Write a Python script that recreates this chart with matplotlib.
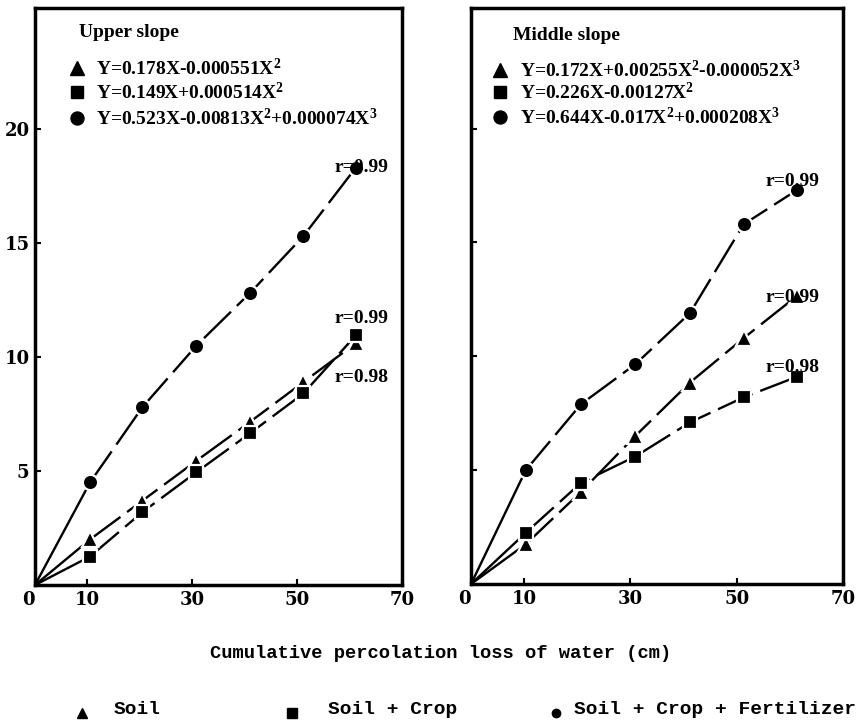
import matplotlib
matplotlib.use("Agg")
import matplotlib.pyplot as plt
import numpy as np

plt.rcParams['mathtext.fontset'] = 'custom'
plt.rcParams['mathtext.rm'] = 'Liberation Serif:bold'
plt.rcParams['mathtext.it'] = 'Liberation Serif:bold'
plt.rcParams['mathtext.bf'] = 'Liberation Serif:bold'

# ---- data ----
series_names = ["Soil", "Soil + Crop", "Soil + Crop + Fertilizer"]

upper_x = [10.5, 20.5, 30.8, 41.0, 51.2, 61.2]
upper_soil = [2.0, 3.7, 5.45, 7.15, 8.9, 10.6]
upper_crop = [1.25, 3.2, 4.95, 6.65, 8.4, 10.95]
upper_fert = [4.5, 7.8, 10.5, 12.8, 15.3, 18.3]

middle_x = [10.3, 20.7, 30.9, 41.2, 51.3, 61.3]
middle_soil = [1.75, 4.05, 6.5, 8.85, 10.8, 12.65]
middle_crop = [2.25, 4.45, 5.6, 7.1, 8.2, 9.1]
middle_fert = [5.0, 7.9, 9.65, 11.9, 15.8, 17.3]

upper_eqs = ["Y=0.178X-0.000551X$^{2}$",
             "Y=0.149X+0.000514X$^{2}$",
             "Y=0.523X-0.00813X$^{2}$+0.000074X$^{3}$"]
middle_eqs = ["Y=0.172X+0.00255X$^{2}$-0.000052X$^{3}$",
              "Y=0.226X-0.00127X$^{2}$",
              "Y=0.644X-0.017X$^{2}$+0.000208X$^{3}$"]

upper_r = [("r=0.99", 62.3, 18.3), ("r=0.99", 62.3, 11.7), ("r=0.98", 62.3, 9.1)]
middle_r = [("r=0.99", 60.5, 17.7), ("r=0.99", 60.5, 12.6), ("r=0.98", 60.5, 9.5)]

xticks = [0, 10, 30, 50, 70]
yticks = [5, 10, 15, 20]
xlabel = "Cumulative percolation loss of water (cm)"

markers = ['^', 's', 'o']
msizes = [12, 10, 11]

serif = 'Liberation Serif'
tickfont = 'DejaVu Serif'
mono = 'Liberation Mono'

fig = plt.figure(figsize=(8.58, 7.27), dpi=100)
ax1 = fig.add_axes([0.0408, 0.1953, 0.4277, 0.7937])
ax2 = fig.add_axes([0.549, 0.1967, 0.4336, 0.7923])


def draw_panel(ax, xs, ys_list, title, eqs, rlabels, title_pos, mk_x, tx_x, eq_ys, show_ylabels):
    for ys, m, ms in zip(ys_list, markers, msizes):
        # solid segment from origin to first point
        ax.plot(np.r_[0, xs[:1]], np.r_[0, ys[:1]], color='black', lw=1.7, zorder=2)
        ax.plot(xs, ys, color='black', lw=1.7, dashes=(16, 3.5), zorder=2)
        ax.plot(xs, ys, linestyle='none', marker=m, ms=ms, color='black',
                markeredgecolor='white', markeredgewidth=1.6, zorder=3)
    ax.set_xlim(0, 70)
    ax.set_ylim(0, 25.3)
    ax.set_xticks(xticks)
    ax.set_xticklabels([str(t) for t in xticks], fontfamily=tickfont,
                       fontweight='bold', fontsize=13)
    labs = ax.get_xticklabels()
    labs[0].set_ha('right')
    ax.set_yticks(yticks)
    if show_ylabels:
        ax.set_yticklabels([str(t) for t in yticks], fontfamily=tickfont,
                           fontweight='bold', fontsize=13)
    else:
        ax.set_yticklabels([])
    ax.tick_params(direction='in', length=4, width=1.5, pad=4)
    for s in ax.spines.values():
        s.set_linewidth(2.5)
    ax.text(title_pos[0], title_pos[1], title, transform=ax.transAxes,
            fontfamily=serif, fontweight='bold', fontsize=14, va='center', ha='left')
    for eq, m, y, ms in zip(eqs, markers, eq_ys, msizes):
        ax.plot([mk_x], [y], transform=ax.transAxes, marker=m, ms=ms * 0.85,
                color='black', linestyle='none', clip_on=False)
        ax.text(tx_x, y, eq, transform=ax.transAxes, fontfamily=serif,
                fontweight='bold', fontsize=14, va='center', ha='left')
    for txt, x, y in rlabels:
        ax.text(x, y, txt, fontfamily=serif, fontweight='bold', fontsize=14,
                ha='center', va='center', zorder=4)


draw_panel(ax1, upper_x, [upper_soil, upper_crop, upper_fert], "Upper slope",
           upper_eqs, upper_r, (0.12, 0.957), 0.114, 0.166,
           [0.896, 0.854, 0.809], True)
draw_panel(ax2, middle_x, [middle_soil, middle_crop, middle_fert], "Middle slope",
           middle_eqs, middle_r, (0.113, 0.953), 0.078, 0.132,
           [0.892, 0.854, 0.810], False)

fig.text(0.514, 1 - 653 / 727, xlabel, fontfamily=mono, fontweight='bold',
         fontsize=13.5, ha='center', va='center')

# bottom legend
lax = fig.add_axes([0, 0, 1, 1], facecolor='none')
lax.set_xlim(0, 858)
lax.set_ylim(727, 0)
lax.axis('off')
leg_mk_x = [82, 292, 556]
leg_tx_x = [114, 328, 574]
leg_y = 710
leg_ms = [7, 6.5, 6]
for name, m, mx, tx, lms in zip(series_names, markers, leg_mk_x, leg_tx_x, leg_ms):
    lax.plot([mx], [leg_y + 3], marker=m, ms=lms, color='black', linestyle='none')
    lax.text(tx, leg_y, name, fontfamily=mono, fontweight='bold', fontsize=14,
             ha='left', va='center')

fig.savefig("out.png", dpi=100)
